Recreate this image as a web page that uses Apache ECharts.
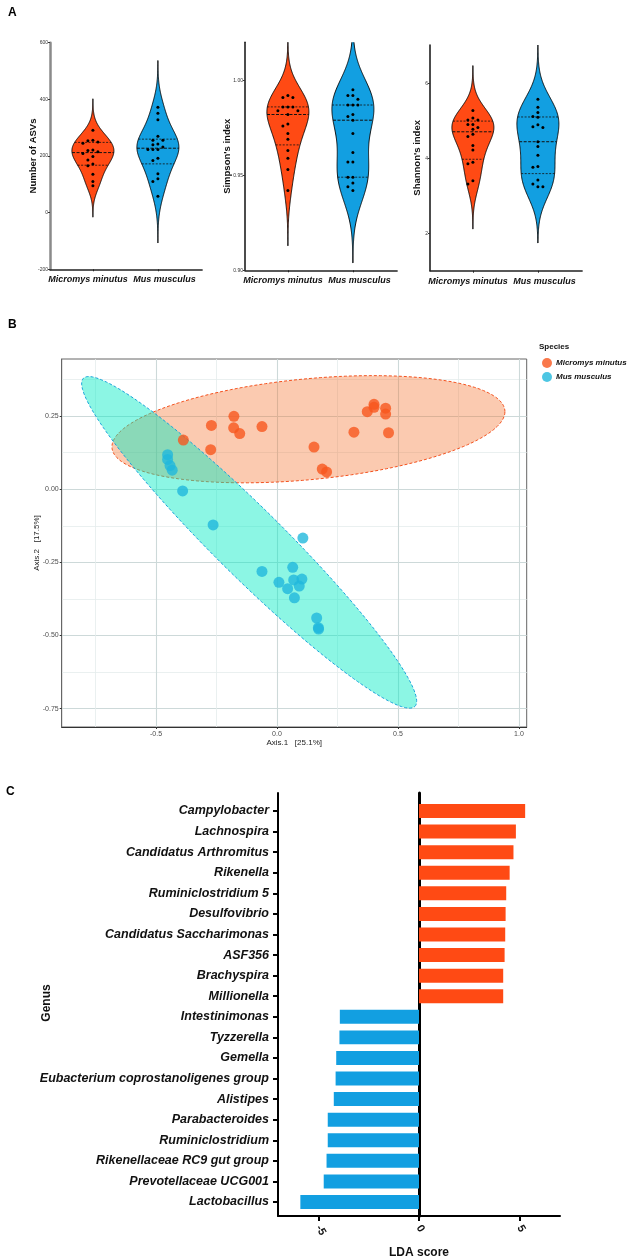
<!DOCTYPE html>
<html><head><meta charset="utf-8">
<script src="https://cdn.jsdelivr.net/npm/echarts@6/dist/echarts.min.js"></script>
<style>html,body{margin:0;padding:0;background:#fff}#c{width:642px;height:1259px}</style>
</head><body><div id="c"></div><script>
// ---------- DATA ----------
const groups = ['Micromys minutus', 'Mus musculus'];
// Panel A: alpha diversity per sample
const asvMicromys = [291,256,254,249,245,221,219,215,209,198,186,172,166,136,110,95];
const asvMus = [372,351,328,270,256,256,242,240,232,223,223,223,192,184,137,120,110,58];
const simpsonMicromys = [0.992,0.991,0.991,0.986,0.986,0.986,0.984,0.984,0.982,0.977,0.976,0.972,0.969,0.963,0.959,0.953,0.942];
const simpsonMus = [0.995,0.992,0.992,0.990,0.987,0.987,0.987,0.982,0.981,0.979,0.972,0.962,0.957,0.957,0.949,0.949,0.946,0.944,0.942];
const shannonMicromys = [5.27,5.07,5.02,5.02,4.90,4.90,4.82,4.77,4.64,4.58,4.34,4.22,3.89,3.85,3.40,3.31];
const shannonMus = [5.57,5.36,5.22,5.11,5.09,4.89,4.84,4.82,4.44,4.31,4.08,3.78,3.76,3.42,3.31,3.24,3.24];
// kernel bandwidths of the violins
const asvBandwidth = [37, 55];
const simpsonBandwidth = [0.0097, 0.0127];
const shannonBandwidth = [0.40, 0.50];
const asvTicks = [-200, 0, 200, 400, 600];
const simpsonTicks = [0.90, 0.95, 1.00];
const shannonTicks = [2, 4, 6];
const groupLabelPos = [0.925, 2.1];

// Panel B: PCoA
const pcoaMicromys = [[-0.387,0.168],[-0.271,0.218],[-0.274,0.135],[-0.178,0.249],[-0.179,0.210],[-0.154,0.190],[-0.062,0.214],[0.153,0.144],[0.187,0.069],[0.205,0.059],[0.318,0.195],[0.373,0.265],[0.401,0.290],[0.401,0.280],[0.449,0.277],[0.449,0.257],[0.461,0.193]];
const pcoaMus = [[-0.452,0.118],[-0.452,0.102],[-0.442,0.081],[-0.433,0.065],[-0.390,-0.006],[-0.264,-0.122],[0.107,-0.167],[-0.062,-0.281],[0.065,-0.267],[0.008,-0.318],[0.069,-0.310],[0.103,-0.307],[0.044,-0.340],[0.092,-0.331],[0.072,-0.371],[0.164,-0.440],[0.171,-0.473],[0.172,-0.478]];
const ellipseCenters = [[0.130, 0.205], [-0.115, -0.1815]];
const ellipseAxisU = [[0.812, 0.060], [0.685, -0.5605]];
const ellipseAxisV = [[0.0, 0.173], [0.100, 0.083]];
const pcoaXMajor = [-0.5, 0, 0.5, 1.0];
const pcoaXMinor = [-0.75, -0.25, 0.25, 0.75];
const pcoaYMajor = [-0.75, -0.5, -0.25, 0, 0.25];
const pcoaYMinor = [-0.625, -0.375, -0.125, 0.125, 0.375];

// Panel C: LEfSe
const genera = ['Campylobacter','Lachnospira','Candidatus Arthromitus','Rikenella','Ruminiclostridium 5','Desulfovibrio','Candidatus Saccharimonas','ASF356','Brachyspira','Millionella','Intestinimonas','Tyzzerella','Gemella','Eubacterium coprostanoligenes group','Alistipes','Parabacteroides','Ruminiclostridium','Rikenellaceae RC9 gut group','Prevotellaceae UCG001','Lactobacillus'];
const ldaScores = [5.27,4.81,4.69,4.50,4.33,4.30,4.28,4.25,4.18,4.18,-3.93,-3.95,-4.11,-4.14,-4.23,-4.53,-4.53,-4.59,-4.73,-5.89];
const ldaTicks = [-5, 0, 5];

// ---------- STYLE ----------
const FONT = 'Liberation Sans, Arial, sans-serif';
const ORANGE = '#FF4A14', BLUE = '#129FE1';
const PT_ORANGE = '#F8561E', PT_BLUE = '#20B8DC';

function quantile(sorted, p) {
  const n = sorted.length, pos = p * (n + 1) - 1;
  if (pos <= 0) return sorted[0];
  if (pos >= n - 1) return sorted[n - 1];
  const lo = Math.floor(pos), f = pos - lo;
  return sorted[lo] + f * (sorted[lo + 1] - sorted[lo]);
}

function makeViolin(idx, sets, bws) {
  return {
    type: 'custom', xAxisIndex: idx, yAxisIndex: idx, clip: true, silent: true, z: 3,
    data: sets.map((_, i) => [i + 1]),
    renderItem: function (params, api) {
      const i = params.dataIndex, vals = sets[i], bw = bws[i];
      const cx = api.coord([i + 1, vals[0]])[0];
      const lo = Math.min(...vals) - 3 * bw, hi = Math.max(...vals) + 3 * bw;
      const dens = v => { let d = 0; for (const x of vals) { const z = (v - x) / bw; d += Math.exp(-0.5 * z * z); } return d; };
      const N = 240, prof = []; let maxD = 0;
      for (let k = 0; k <= N; k++) { const v = lo + (hi - lo) * k / N; const d = dens(v); prof.push([v, d]); if (d > maxD) maxD = d; }
      const HW = 21;
      const right = [], left = [];
      prof.forEach(([v, d]) => { const y = api.coord([1, v])[1]; const w = d / maxD * HW; right.push([cx + w, y]); left.unshift([cx - w, y]); });
      const children = [{ type: 'polygon', shape: { points: right.concat(left) }, style: { fill: i === 0 ? ORANGE : BLUE, stroke: '#000', lineWidth: 0.9 } }];
      const sorted = [...vals].sort((a, b) => a - b);
      [0.25, 0.5, 0.75].forEach(p => {
        const q = quantile(sorted, p), y = api.coord([1, q])[1], w = dens(q) / maxD * HW;
        children.push({ type: 'line', shape: { x1: cx - w, y1: y, x2: cx + w, y2: y }, style: { stroke: '#111', lineWidth: p === 0.5 ? 1 : 0.8, lineDash: p === 0.5 ? [3, 1.5] : [2, 1.5] } });
      });
      const placed = [];
      [...vals].sort((a, b) => b - a).forEach(v => {
        const y = api.coord([1, v])[1];
        for (const o of [0, -5, 5, -10, 10, -15, 15]) {
          if (placed.every(p => Math.hypot(p[0] - (cx + o), p[1] - y) >= 4.2)) { placed.push([cx + o, y]); break; }
        }
      });
      placed.forEach(p => children.push({ type: 'circle', shape: { cx: p[0], cy: p[1], r: 1.5 }, style: { fill: '#000' } }));
      return { type: 'group', children };
    }
  };
}

function violinX(gridIndex) {
  return {
    type: 'value', gridIndex, min: 0.34, max: 2.68,
    axisLine: { show: true, onZero: false, lineStyle: { color: '#222', width: 1.5 } },
    axisTick: { show: true, length: 2, customValues: [1, 2], lineStyle: { color: '#222' } },
    axisLabel: { customValues: groupLabelPos, hideOverlap: false, showMinLabel: true, showMaxLabel: true,
      formatter: v => groups[v < 1.5 ? 0 : 1], fontFamily: FONT, fontSize: 9, fontWeight: 'bold', fontStyle: 'italic', color: '#111', margin: 6 },
    splitLine: { show: false }
  };
}
function violinY(gridIndex, min, max, ticks, name, gap, fmt, lineColor, lineWidth) {
  return {
    type: 'value', gridIndex, min, max, name, nameLocation: 'middle', nameGap: gap, nameMoveOverlap: false,
    nameTextStyle: { fontFamily: FONT, fontSize: 9.5, fontWeight: 'bold', color: '#111' },
    axisLine: { show: true, onZero: false, lineStyle: { color: lineColor, width: lineWidth } },
    axisTick: { show: true, length: 2, customValues: ticks, lineStyle: { color: '#333' } },
    axisLabel: { customValues: ticks, formatter: fmt, fontFamily: FONT, fontSize: 5, color: '#333', margin: 2 },
    splitLine: { show: false }
  };
}

const bLabel = { fontFamily: FONT, fontSize: 7, color: '#4d4d4d' };
const option = {
  animation: false,
  backgroundColor: '#fff',
  title: [
    { text: 'A', left: 3, top: 2, textStyle: { fontFamily: FONT, fontSize: 12, fontWeight: 'bold', color: '#000' } },
    { text: 'B', left: 3, top: 314, textStyle: { fontFamily: FONT, fontSize: 12, fontWeight: 'bold', color: '#000' } },
    { text: 'C', left: 1, top: 781, textStyle: { fontFamily: FONT, fontSize: 12, fontWeight: 'bold', color: '#000' } },
    { text: 'Species', left: 534, top: 338, textStyle: { fontFamily: FONT, fontSize: 8, fontWeight: 'bold', color: '#111' } }
  ],
  legend: {
    left: 537, top: 353, orient: 'vertical', itemWidth: 10, itemHeight: 10, itemGap: 4, icon: 'circle', selectedMode: false,
    data: groups,
    textStyle: { fontFamily: FONT, fontSize: 8, fontWeight: 'bold', fontStyle: 'italic', color: '#111', padding: [0, 0, 0, -1] }
  },
  grid: [
    { left: 50, top: 42.7, width: 152.1, height: 226.6, outerBoundsMode: 'none' },
    { left: 245, top: 42.3, width: 152.1, height: 228, outerBoundsMode: 'none' },
    { left: 430, top: 45, width: 152.1, height: 225.7, outerBoundsMode: 'none' },
    { left: 61.7, top: 359, width: 465, height: 368, show: true, borderColor: '#666', borderWidth: 1, outerBoundsMode: 'none' },
    { left: 278, top: 793, width: 282, height: 423, outerBoundsMode: 'none' }
  ],
  xAxis: [
    violinX(0), violinX(1), violinX(2),
    { type: 'value', gridIndex: 3, min: -0.8897, max: 1.032, name: 'Axis.1   [25.1%]', nameLocation: 'middle', nameGap: 12, nameMoveOverlap: false,
      nameTextStyle: { fontFamily: FONT, fontSize: 8, color: '#222' },
      axisLine: { show: true, onZero: false, lineStyle: { color: '#333', width: 1 } },
      axisTick: { show: true, length: 2, customValues: pcoaXMajor, lineStyle: { color: '#333' } },
      axisLabel: Object.assign({ customValues: pcoaXMajor, formatter: v => v.toFixed(1), margin: 4 }, bLabel),
      splitLine: { show: true, lineStyle: { color: '#cdd9d9', width: 1.1 } } },
    { type: 'value', gridIndex: 3, min: -0.8897, max: 1.032, position: 'bottom',
      axisLine: { show: false }, axisTick: { show: false, customValues: pcoaXMinor }, axisLabel: { show: false, customValues: pcoaXMinor },
      splitLine: { show: true, lineStyle: { color: '#e4ecec', width: 0.8 } } },
    { type: 'value', gridIndex: 4, min: -7, max: 7,
      name: 'LDA score', nameLocation: 'middle', nameGap: 31, nameMoveOverlap: false,
      nameTextStyle: { fontFamily: FONT, fontSize: 12, fontWeight: 'bold', color: '#111' },
      axisLine: { show: true, onZero: false, lineStyle: { color: '#000', width: 2 } },
      axisTick: { show: true, length: 5, customValues: ldaTicks, lineStyle: { color: '#000', width: 2 } },
      axisLabel: { customValues: ldaTicks, rotate: -60, fontFamily: FONT, fontSize: 11, fontWeight: 'bold', color: '#111', margin: 10 },
      splitLine: { show: false } }
  ],
  yAxis: [
    violinY(0, -200, 600, asvTicks, 'Number of ASVs', 12, v => String(v), '#8a8a8a', 2.5),
    violinY(1, 0.90, 1.02, simpsonTicks, "Simpson's index", 13, v => v.toFixed(2), '#111', 1.5),
    violinY(2, 1, 7.02, shannonTicks, "Shannon's index", 7.5, v => String(v), '#111', 1.5),
    { type: 'value', gridIndex: 3, min: -0.8125, max: 0.445, name: 'Axis.2   [17.5%]', nameLocation: 'middle', nameGap: 21, nameMoveOverlap: false,
      nameTextStyle: { fontFamily: FONT, fontSize: 8, color: '#222' },
      axisLine: { show: true, onZero: false, lineStyle: { color: '#666', width: 1 } },
      axisTick: { show: true, length: 2, customValues: pcoaYMajor, lineStyle: { color: '#333' } },
      axisLabel: Object.assign({ customValues: pcoaYMajor, formatter: v => v.toFixed(2), margin: 3 }, bLabel),
      splitLine: { show: true, lineStyle: { color: '#cdd9d9', width: 1.1 } } },
    { type: 'value', gridIndex: 3, min: -0.8125, max: 0.445, position: 'left',
      axisLine: { show: false }, axisTick: { show: false, customValues: pcoaYMinor }, axisLabel: { show: false, customValues: pcoaYMinor },
      splitLine: { show: true, lineStyle: { color: '#e4ecec', width: 0.8 } } },
    { type: 'value', gridIndex: 4, min: -0.875, max: 19.68, inverse: true,
      axisLine: { show: true, onZero: false, lineStyle: { color: '#000', width: 2 } },
      axisTick: { show: true, length: 5, customValues: genera.map((_, i) => i), lineStyle: { color: '#000', width: 2 } },
      axisLabel: { customValues: genera.map((_, i) => i), hideOverlap: false, formatter: v => genera[Math.round(v)], fontFamily: FONT, fontSize: 12.5, fontWeight: 'bold', fontStyle: 'italic', color: '#111', margin: 9 },
      splitLine: { show: false } },
    { type: 'value', gridIndex: 4, min: -0.875, max: 19.68, inverse: true,
      axisLine: { show: true, onZero: true, lineStyle: { color: '#000', width: 3 } },
      axisTick: { show: false }, axisLabel: { show: false }, splitLine: { show: false } }
  ],
  graphic: [
    { type: 'text', x: 47, y: 1003, rotation: Math.PI / 2, style: { text: 'Genus', font: 'bold 12px ' + FONT, fill: '#111', align: 'center', verticalAlign: 'middle' } }
  ],
  series: [
    makeViolin(0, [asvMicromys, asvMus], asvBandwidth),
    makeViolin(1, [simpsonMicromys, simpsonMus], simpsonBandwidth),
    makeViolin(2, [shannonMicromys, shannonMus], shannonBandwidth),
    { type: 'custom', name: 'ellipses', xAxisIndex: 3, yAxisIndex: 3, z: 2, silent: true, clip: true,
      data: [[0], [1]],
      renderItem: function (params, api) {
        const k = params.dataIndex, c = ellipseCenters[k], u = ellipseAxisU[k], v = ellipseAxisV[k];
        const pts = [];
        for (let j = 0; j < 200; j++) {
          const t = 2 * Math.PI * j / 200, ct = Math.cos(t), st = Math.sin(t);
          pts.push(api.coord([c[0] + u[0] * ct + v[0] * st, c[1] + u[1] * ct + v[1] * st]));
        }
        return { type: 'polygon', shape: { points: pts },
          style: k === 0 ? { fill: 'rgba(245,110,40,0.37)', stroke: '#F4511E', lineWidth: 1, lineDash: [3, 2] }
                         : { fill: 'rgba(0,235,195,0.45)', stroke: '#1AA3DB', lineWidth: 1, lineDash: [3, 2] } };
      } },
    { type: 'scatter', name: groups[0], xAxisIndex: 3, yAxisIndex: 3, z: 4, symbolSize: 11, data: pcoaMicromys, itemStyle: { color: PT_ORANGE } },
    { type: 'scatter', name: groups[1], xAxisIndex: 3, yAxisIndex: 3, z: 4, symbolSize: 11, data: pcoaMus, itemStyle: { color: PT_BLUE } },
    { type: 'custom', name: 'lda', xAxisIndex: 5, yAxisIndex: 5, z: 2, silent: true,
      data: ldaScores.map((v, i) => [v, i]), encode: { x: 0, y: 1 },
      renderItem: function (params, api) {
        const v = api.value(0), i = api.value(1);
        const p0 = api.coord([0, i - 0.34]), p1 = api.coord([v, i + 0.34]);
        return { type: 'rect', shape: { x: Math.min(p0[0], p1[0]), y: Math.min(p0[1], p1[1]), width: Math.abs(p1[0] - p0[0]), height: Math.abs(p1[1] - p0[1]) },
          style: { fill: v > 0 ? ORANGE : BLUE } };
      } }
  ]
};
const chart = echarts.init(document.getElementById('c'), null, { renderer: 'canvas' });
chart.setOption(option);
</script></body></html>
